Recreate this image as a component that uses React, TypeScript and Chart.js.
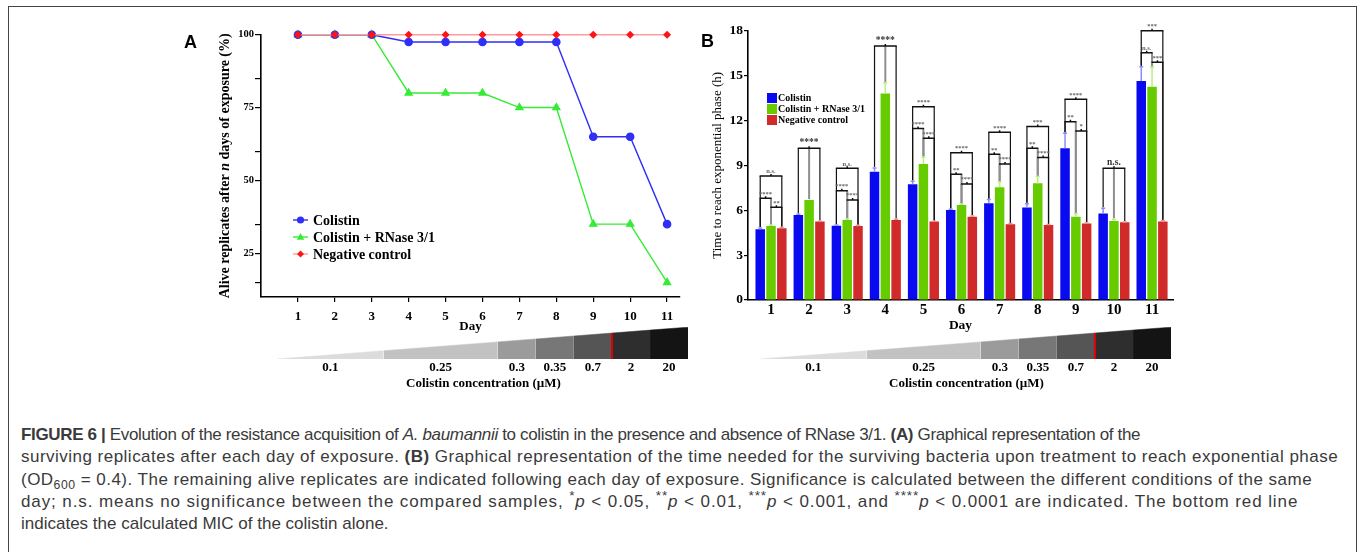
import React, { useEffect, useRef } from 'react';
import { Chart, registerables } from 'chart.js';

Chart.register(...registerables);

const SERIF = '"Liberation Serif", "Times New Roman", Times, serif';
const SANS = '"Liberation Sans", Arial, Helvetica, sans-serif';
Chart.defaults.font.family = SERIF;

// ---------------- data ----------------
const days = [1, 2, 3, 4, 5, 6, 7, 8, 9, 10, 11];
const seriesNames = ['Colistin', 'Colistin + RNase 3/1', 'Negative control'];

// Panel A: alive replicates (%)
const survivalColistin = [100, 100, 100, 97.5, 97.5, 97.5, 97.5, 97.5, 65, 65, 35];
const survivalCombo = [100, 100, 100, 80, 80, 80, 75, 75, 35, 35, 15];
const survivalControl = [100, 100, 100, 100, 100, 100, 100, 100, 100, 100, 100];
const survivalTicks = [15, 25, 35, 50, 60, 75, 85, 100];
const survivalTickLabels = [25, 50, 75, 100];

// Panel B: time to reach exponential phase (h)
const timeColistin = [4.73, 5.68, 4.97, 8.58, 7.73, 6.02, 6.46, 6.19, 10.14, 5.79, 14.64];
const timeCombo = [4.95, 6.68, 5.35, 13.8, 9.09, 6.35, 7.53, 7.8, 5.57, 5.28, 14.26];
const timeControl = [4.79, 5.24, 4.95, 5.35, 5.24, 5.57, 5.06, 5.01, 5.12, 5.19, 5.24];
const errColistin = [0.08, 0.05, 0.05, 0.25, 0.2, 0.05, 0.25, 0.25, 1.0, 0.35, 0.95];
const errCombo = [0.05, 0.0, 0.05, 0.7, 0.45, 0.05, 0.35, 0.45, 0.2, 0.12, 1.3];
const errControl = [0.05, 0.03, 0.03, 0.05, 0.03, 0.05, 0.05, 0.03, 0.03, 0.03, 0.05];
const timeTicks = [0, 3, 6, 9, 12, 15, 18];

// significance brackets (bar index 0 = Colistin, 1 = + RNase, 2 = control)
const sigDay = [1, 1, 1, 2, 3, 3, 3, 4, 5, 5, 5, 6, 6, 6, 7, 7, 7, 8, 8, 8, 9, 9, 9, 10, 11, 11, 11];
const sigFrom = [0, 0, 1, 0, 0, 0, 1, 0, 0, 0, 1, 0, 0, 1, 0, 0, 1, 0, 0, 1, 0, 0, 1, 0, 0, 0, 1];
const sigTo = [2, 1, 2, 2, 2, 1, 2, 2, 2, 1, 2, 2, 1, 2, 2, 1, 2, 2, 1, 2, 2, 1, 2, 2, 2, 1, 2];
const sigHeight = [8.29, 6.8, 6.2, 10.14, 8.8, 7.31, 6.68, 16.98, 12.92, 11.47, 10.81, 9.85, 8.4, 7.75, 11.21, 9.74, 9.09, 11.59, 10.14, 9.52, 13.41, 11.92, 11.3, 8.8, 18.0, 16.53, 15.89];
const sigLabel = ['n.s.', '****', '**', '****', 'n.s.', '****', '****', '****', '****', '****', '****', '****', '**', '****', '****', '**', '****', '***', '**', '****', '****', '**', '*', 'n.s.', '***', 'n.s.', '***'];

// colistin concentration (µM) used on each day
const dayConcentration = ['0.1', '0.1', '0.1', '0.25', '0.25', '0.25', '0.3', '0.35', '0.7', '2', '20'];
const micBelowConcentration = '0.7';

// ---------------- styles ----------------
const LINE_BLUE = '#2f2ff7';
const LINE_GREEN = '#35ec35';
const LINE_PINK = '#ff9c9c';
const MARK_RED = '#ff1414';
const BAR_COLORS = ['#0a0af0', '#66cc00', '#d12a2a'];
const ERR_COLORS = ['#8c8cff', '#b8f27a', '#f08c8c'];
const WEDGE_GRAYS = ['#dcdcdc', '#c2c2c2', '#9b9b9b', '#777777', '#555555', '#2e2e2e', '#141414'];
const WEDGE_MIN = 0.7;
const WEDGE_MAX = 11.55;

// ---------------- plugins ----------------
const legendLinePlugin = {
  id: 'legendLine',
  afterDraw(chart: any, _a: any, opts: any) {
    const ctx = chart.ctx;
    ctx.save();
    chart.data.datasets.forEach((ds: any, i: number) => {
      const y = opts.y + i * opts.gap;
      ctx.strokeStyle = ds.borderColor;
      ctx.lineWidth = 1.4;
      ctx.beginPath();
      ctx.moveTo(opts.x, y);
      ctx.lineTo(opts.x + 15, y);
      ctx.stroke();
      const cx = opts.x + 7.5;
      ctx.fillStyle = ds.pointBackgroundColor || ds.backgroundColor;
      ctx.beginPath();
      if (ds.pointStyle === 'circle') {
        ctx.arc(cx, y, 3.6, 0, Math.PI * 2);
      } else if (ds.pointStyle === 'triangle') {
        ctx.moveTo(cx, y - 4);
        ctx.lineTo(cx + 3.8, y + 2.8);
        ctx.lineTo(cx - 3.8, y + 2.8);
        ctx.closePath();
      } else {
        ctx.moveTo(cx, y - 3.5);
        ctx.lineTo(cx + 3.5, y);
        ctx.lineTo(cx, y + 3.5);
        ctx.lineTo(cx - 3.5, y);
        ctx.closePath();
      }
      ctx.fill();
      ctx.fillStyle = '#000';
      ctx.font = 'bold 14px ' + SERIF;
      ctx.textBaseline = 'middle';
      ctx.textAlign = 'left';
      ctx.fillText(ds.label, opts.x + 20, y + 1);
    });
    ctx.restore();
  },
};

const italicTitlePlugin = {
  id: 'italicTitle',
  afterDraw(chart: any, _a: any, opts: any) {
    const ctx = chart.ctx;
    const area = chart.chartArea;
    const parts: [string, boolean][] = opts.parts;
    const fontFor = (it: boolean) => (it ? 'italic bold ' : 'bold ') + opts.size + 'px ' + SERIF;
    let total = 0;
    parts.forEach(([t, it]) => {
      ctx.font = fontFor(it);
      total += ctx.measureText(t).width;
    });
    ctx.save();
    ctx.translate(opts.x, (area.top + area.bottom) / 2);
    ctx.rotate(-Math.PI / 2);
    ctx.fillStyle = '#000';
    ctx.textBaseline = 'middle';
    ctx.textAlign = 'left';
    let pos = -total / 2;
    parts.forEach(([t, it]) => {
      ctx.font = fontFor(it);
      ctx.fillText(t, pos, 0);
      pos += ctx.measureText(t).width;
    });
    ctx.restore();
  },
};

const legendBoxPlugin = {
  id: 'legendBox',
  afterDraw(chart: any, _a: any, opts: any) {
    const ctx = chart.ctx;
    ctx.save();
    chart.data.datasets.forEach((ds: any, i: number) => {
      const y = opts.y + i * opts.gap;
      ctx.fillStyle = ds.backgroundColor;
      ctx.fillRect(opts.x, y - 5, 10, 10);
      ctx.fillStyle = '#000';
      ctx.font = 'bold 10px ' + SERIF;
      ctx.textBaseline = 'middle';
      ctx.textAlign = 'left';
      ctx.fillText(ds.label, opts.x + 11, y + 0.5);
    });
    ctx.restore();
  },
};

const values = [timeColistin, timeCombo, timeControl];
const errors = [errColistin, errCombo, errControl];

const errorBarPlugin = {
  id: 'errorBars',
  afterDatasetsDraw(chart: any) {
    const ctx = chart.ctx;
    const y = chart.scales.y;
    ctx.save();
    errors.forEach((arr, s) => {
      const meta = chart.getDatasetMeta(s);
      ctx.strokeStyle = ERR_COLORS[s];
      ctx.lineWidth = 1.5;
      arr.forEach((e, j) => {
        if (e <= 0) return;
        const el = meta.data[j];
        const y0 = y.getPixelForValue(values[s][j]);
        const y1 = y.getPixelForValue(values[s][j] + e);
        ctx.beginPath();
        ctx.moveTo(el.x, y0);
        ctx.lineTo(el.x, y1);
        ctx.moveTo(el.x - 2, y1);
        ctx.lineTo(el.x + 2, y1);
        ctx.stroke();
      });
    });
    ctx.restore();
  },
};

const bracketPlugin = {
  id: 'brackets',
  afterDatasetsDraw(chart: any) {
    const ctx = chart.ctx;
    const y = chart.scales.y;
    const metas = [0, 1, 2].map((i) => chart.getDatasetMeta(i));
    const topOf = (s: number, j: number) => y.getPixelForValue(values[s][j] + errors[s][j]) - 1;
    ctx.save();
    ctx.lineCap = 'butt';
    for (let k = 0; k < sigDay.length; k++) {
      const j = days.indexOf(sigDay[k]);
      const a = sigFrom[k];
      const b = sigTo[k];
      const yy = y.getPixelForValue(sigHeight[k]);
      const single = sigDay.filter((d) => d === sigDay[k]).length === 1;
      [a, b].forEach((idx) => {
        const x = metas[idx].data[j].x;
        ctx.strokeStyle = idx === 1 ? '#8e8e8e' : '#111';
        ctx.lineWidth = idx === 1 ? 2 : 1.2;
        ctx.beginPath();
        ctx.moveTo(x, yy);
        ctx.lineTo(x, topOf(idx, j));
        ctx.stroke();
      });
      const xa = metas[a].data[j].x;
      const xb = metas[b].data[j].x;
      const xm = (xa + xb) / 2;
      if (single) {
        const xg = metas[1].data[j].x;
        ctx.strokeStyle = '#8e8e8e';
        ctx.lineWidth = 2;
        ctx.beginPath();
        ctx.moveTo(xg, yy);
        ctx.lineTo(xg, topOf(1, j));
        ctx.stroke();
      }
      ctx.strokeStyle = '#111';
      ctx.lineWidth = 1.5;
      ctx.beginPath();
      ctx.moveTo(xa - 0.6, yy);
      ctx.lineTo(xb + 0.6, yy);
      ctx.moveTo(xm, yy);
      ctx.lineTo(xm, yy - 2);
      ctx.stroke();
      ctx.fillStyle = single ? '#333' : '#666';
      ctx.font = 'bold ' + (single ? 9.5 : 6.5) + 'px ' + SERIF;
      ctx.textAlign = 'center';
      ctx.textBaseline = 'bottom';
      ctx.fillText(sigLabel[k], xm, yy - 1);
    }
    ctx.restore();
  },
};

// ---------------- configs ----------------
function survivalConfig(): any {
  const pts = (arr: number[]) => days.map((d, i) => ({ x: d, y: arr[i] }));
  return {
    type: 'line',
    data: {
      datasets: [
        { label: seriesNames[0], data: pts(survivalColistin), borderColor: LINE_BLUE, backgroundColor: LINE_BLUE, pointBackgroundColor: LINE_BLUE, pointBorderColor: LINE_BLUE, pointStyle: 'circle', pointRadius: 3.6, borderWidth: 1.4, order: 1, clip: false },
        { label: seriesNames[1], data: pts(survivalCombo), borderColor: LINE_GREEN, backgroundColor: LINE_GREEN, pointBackgroundColor: LINE_GREEN, pointBorderColor: LINE_GREEN, pointStyle: 'triangle', pointRadius: 4, borderWidth: 1.4, order: 2, clip: false },
        { label: seriesNames[2], data: pts(survivalControl), borderColor: LINE_PINK, backgroundColor: MARK_RED, pointBackgroundColor: MARK_RED, pointBorderColor: MARK_RED, pointStyle: 'rectRot', pointRadius: 3, borderWidth: 1.4, order: 0, clip: false },
      ],
    },
    options: {
      responsive: false,
      animation: false,
      devicePixelRatio: 1,
      layout: { padding: { top: 14.7, right: 10, left: 0, bottom: 0 } },
      plugins: {
        legend: { display: false },
        tooltip: { enabled: false },
        legendLine: { x: 113, y: 200, gap: 17 },
        italicTitle: { x: 45, size: 14, parts: [['Alive replicates after ', false], ['n', true], [' days of exposure (%)', false]] },
      },
      scales: {
        x: {
          type: 'linear', min: 0, max: 11.35,
          afterBuildTicks: (s: any) => { s.ticks = days.map((v) => ({ value: v })); },
          afterFit: (s: any) => { s.height = 43; },
          grid: { display: true, drawOnChartArea: false, drawTicks: true, tickLength: 5, color: '#000', lineWidth: 1.2 },
          border: { display: true, color: '#000', width: 1.6 },
          ticks: { color: '#000', font: { size: 13, weight: 'bold' }, padding: 7, autoSkip: false, maxRotation: 0 },
          title: { display: true, text: 'Day', color: '#000', font: { size: 13, weight: 'bold' }, padding: { top: 0, bottom: 6 } },
        },
        y: {
          min: 10, max: 100,
          afterBuildTicks: (s: any) => { s.ticks = survivalTicks.map((v) => ({ value: v })); },
          afterFit: (s: any) => { s.width = 81; },
          grid: { display: true, drawOnChartArea: false, drawTicks: true, tickLength: 6, color: '#000', lineWidth: 1.2 },
          border: { display: true, color: '#000', width: 1.6 },
          ticks: { color: '#000', font: { size: 10.5, weight: 'bold' }, padding: 1, autoSkip: false, callback: (v: number) => (survivalTickLabels.includes(v) ? String(v) : '') },
        },
      },
    },
    plugins: [legendLinePlugin, italicTitlePlugin],
  };
}

function timeConfig(): any {
  const pts = (arr: number[]) => days.map((d, i) => ({ x: d, y: arr[i] }));
  return {
    type: 'bar',
    data: {
      datasets: [
        { label: seriesNames[0], data: pts(timeColistin), backgroundColor: BAR_COLORS[0] },
        { label: seriesNames[1], data: pts(timeCombo), backgroundColor: BAR_COLORS[1] },
        { label: seriesNames[2], data: pts(timeControl), backgroundColor: BAR_COLORS[2] },
      ],
    },
    options: {
      responsive: false,
      animation: false,
      devicePixelRatio: 1,
      layout: { padding: { top: 10.7, right: 7, left: 0, bottom: 0 } },
      datasets: { bar: { categoryPercentage: 0.85, barPercentage: 0.88 } },
      plugins: {
        legend: { display: false },
        tooltip: { enabled: false },
        legendBox: { x: 67, y: 78, gap: 11 },
      },
      scales: {
        x: {
          type: 'linear', min: 0.396, max: 11.55, offset: false,
          afterBuildTicks: (s: any) => { s.ticks = days.map((v) => ({ value: v })); },
          afterFit: (s: any) => { s.height = 40; },
          grid: { display: false, drawTicks: false },
          border: { display: true, color: '#000', width: 1.6 },
          ticks: { color: '#000', font: { size: 15, weight: 'bold' }, padding: 1, autoSkip: false, maxRotation: 0 },
          title: { display: true, text: 'Day', color: '#000', font: { size: 13.5, weight: 'bold' }, padding: { top: 0, bottom: 6 } },
        },
        y: {
          min: 0, max: 18,
          afterBuildTicks: (s: any) => { s.ticks = timeTicks.map((v) => ({ value: v })); },
          afterFit: (s: any) => { s.width = 48; },
          grid: { display: true, drawOnChartArea: false, drawTicks: true, tickLength: 4, color: '#000', lineWidth: 1.2 },
          border: { display: true, color: '#000', width: 1.6 },
          ticks: { color: '#000', font: { size: 13.5, weight: 'bold' }, padding: 1, autoSkip: false },
          title: { display: true, text: 'Time to reach exponential phase (h)', color: '#000', font: { size: 13, weight: 'normal' }, padding: { top: 9.5, bottom: 0 } },
        },
      },
    },
    plugins: [errorBarPlugin, bracketPlugin, legendBoxPlugin],
  };
}

function concentrationSegments() {
  const segs: { label: string; first: number; last: number }[] = [];
  dayConcentration.forEach((c, i) => {
    const prev = segs[segs.length - 1];
    if (prev && prev.label === c) prev.last = days[i];
    else segs.push({ label: c, first: days[i], last: days[i] });
  });
  return segs.map((s) => ({
    label: s.label,
    start: Math.max(WEDGE_MIN, s.first - 0.5),
    end: Math.min(WEDGE_MAX, s.last + 0.5),
  }));
}

function wedgeConfig(): any {
  const segs = concentrationSegments();
  const h = (x: number) => (x - WEDGE_MIN) / (WEDGE_MAX - WEDGE_MIN);
  const mic = segs.find((s) => s.label === micBelowConcentration)!.end;
  const datasets: any[] = segs.map((s, i) => ({
    label: s.label,
    data: [{ x: s.start, y: h(s.start) }, { x: s.end, y: h(s.end) }],
    fill: 'origin',
    backgroundColor: WEDGE_GRAYS[i],
    borderColor: WEDGE_GRAYS[i],
    borderWidth: 0.5,
    pointRadius: 0,
    order: 1,
  }));
  datasets.push({
    label: 'MIC',
    data: [{ x: mic, y: 0 }, { x: mic, y: h(mic) }],
    fill: false,
    borderColor: '#e30000',
    borderWidth: 2,
    pointRadius: 0,
    order: -1,
  });
  return {
    type: 'line',
    data: { datasets },
    options: {
      responsive: false,
      animation: false,
      devicePixelRatio: 1,
      layout: { padding: { top: 7, left: 50, right: 17, bottom: 0 } },
      plugins: { legend: { display: false }, tooltip: { enabled: false } },
      scales: {
        x: {
          type: 'linear', min: WEDGE_MIN, max: WEDGE_MAX,
          afterBuildTicks: (s: any) => { s.ticks = segs.map((g) => ({ value: (g.start + g.end) / 2 })); },
          afterFit: (s: any) => { s.height = 36; },
          grid: { display: false, drawTicks: false },
          border: { display: false },
          ticks: { color: '#000', font: { size: 13, weight: 'bold' }, padding: 1, autoSkip: false, maxRotation: 0, callback: (_v: any, i: number) => segs[i].label },
          title: { display: true, text: 'Colistin concentration (µM)', color: '#000', font: { size: 13, weight: 'bold' }, padding: { top: 0, bottom: 4 } },
        },
        y: { min: 0, max: 1, display: false },
      },
    },
  };
}

// ---------------- components ----------------
function ChartCanvas({ left, top, width, height, make }: { left: number; top: number; width: number; height: number; make: () => any }) {
  const ref = useRef<HTMLCanvasElement>(null);
  useEffect(() => {
    const chart = new Chart(ref.current as HTMLCanvasElement, make());
    return () => chart.destroy();
  }, []);
  return <canvas ref={ref} width={width} height={height} style={{ position: 'absolute', left, top, width, height }} />;
}

const sup: React.CSSProperties = { fontSize: '0.8em', verticalAlign: 'super', lineHeight: 0 };
const sub: React.CSSProperties = { fontSize: '0.72em', verticalAlign: 'sub', lineHeight: 0 };

export default function App() {
  return (
    <div style={{ position: 'absolute', left: 0, top: 0, width: 1357, height: 552, overflow: 'hidden', background: '#fff' }}>
      <div style={{ position: 'absolute', left: 8, top: 6, width: 1347, height: 600, borderLeft: '1px solid #444', borderTop: '1px solid #444', borderRight: '1px solid #444' }} />
      <ChartCanvas left={180} top={20} width={510} height={320} make={survivalConfig} />
      <ChartCanvas left={700} top={20} width={480} height={320} make={timeConfig} />
      <ChartCanvas left={227} top={320} width={480} height={75} make={wedgeConfig} />
      <ChartCanvas left={710} top={320} width={480} height={75} make={wedgeConfig} />
      <div style={{ position: 'absolute', left: 184, top: 33, fontFamily: SANS, fontWeight: 'bold', fontSize: 18, lineHeight: '18px', color: '#000' }}>A</div>
      <div style={{ position: 'absolute', left: 701, top: 32, fontFamily: SANS, fontWeight: 'bold', fontSize: 18, lineHeight: '18px', color: '#000' }}>B</div>
      <div style={{ position: 'absolute', left: 21, top: 424, fontFamily: SANS, fontSize: 17, lineHeight: '22.3px', color: '#3a3a3a', whiteSpace: 'nowrap' }}>
        <div style={{ letterSpacing: '-0.35px' }}><b>FIGURE 6 |</b> Evolution of the resistance acquisition of <i>A. baumannii</i> to colistin in the presence and absence of RNase 3/1. <b>(A)</b> Graphical representation of the</div>
        <div style={{ letterSpacing: '0.48px' }}>surviving replicates after each day of exposure. <b>(B)</b> Graphical representation of the time needed for the surviving bacteria upon treatment to reach exponential phase</div>
        <div style={{ letterSpacing: '0.48px' }}>(OD<span style={sub}>600</span> = 0.4). The remaining alive replicates are indicated following each day of exposure. Significance is calculated between the different conditions of the same</div>
        <div style={{ letterSpacing: '0.9px' }}>day; n.s. means no significance between the compared samples, <span style={sup}>*</span><i>p</i> &lt; 0.05, <span style={sup}>**</span><i>p</i> &lt; 0.01, <span style={sup}>***</span><i>p</i> &lt; 0.001, and <span style={sup}>****</span><i>p</i> &lt; 0.0001 are indicated. The bottom red line</div>
        <div>indicates the calculated MIC of the colistin alone.</div>
      </div>
    </div>
  );
}
